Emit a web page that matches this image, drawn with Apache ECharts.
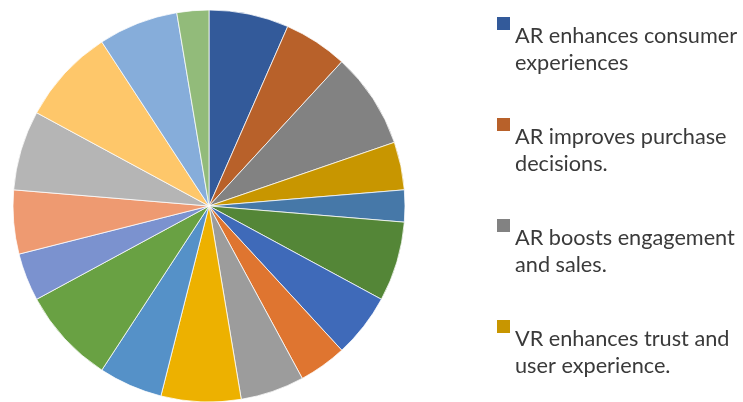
<!DOCTYPE html>
<html>
<head>
<meta charset="utf-8">
<script src="https://cdn.jsdelivr.net/npm/echarts@6/dist/echarts.min.js"></script>
<style>
  html, body { margin: 0; padding: 0; background: #ffffff; }
  #chart { width: 743px; height: 402px; }
</style>
</head>
<body>
<div id="chart"></div>
<script>
// Slice names (only the first four appear in the legend)
const categories = [
  'AR enhances consumer experiences',
  'AR improves purchase decisions.',
  'AR boosts engagement and sales.',
  'VR enhances trust and user experience.',
  'Item 5', 'Item 6', 'Item 7', 'Item 8', 'Item 9', 'Item 10',
  'Item 11', 'Item 12', 'Item 13', 'Item 14', 'Item 15', 'Item 16',
  'Item 17', 'Item 18'
];
// Slice values, clockwise from 12 o'clock
const values = [5, 4, 6, 3, 2, 5, 4, 3, 4, 5, 4, 6, 3, 4, 5, 6, 5, 2];
// Legend text, wrapped onto two lines
const legendText = {
  'AR enhances consumer experiences': 'AR enhances consumer\nexperiences',
  'AR improves purchase decisions.': 'AR improves purchase\ndecisions.',
  'AR boosts engagement and sales.': 'AR boosts engagement\nand sales.',
  'VR enhances trust and user experience.': 'VR enhances trust and\nuser experience.'
};
const legendItems = categories.slice(0, 4);
const palette = [
  '#335A9A', '#B8612A', '#828282', '#C89600', '#4678A8', '#548637',
  '#3F6AB9', '#DF7530', '#9C9C9C', '#EDB100', '#5591C8', '#69A143',
  '#7B92CF', '#EE9A71', '#B5B5B5', '#FEC76A', '#86ADDA', '#92BB7A'
];

const chart = echarts.init(document.getElementById('chart'), null, { renderer: 'canvas' });

chart.setOption({
  animation: false,
  backgroundColor: '#ffffff',
  color: palette,
  legend: {
    orient: 'vertical',
    left: 497,
    top: 17,
    padding: 0,
    data: legendItems,
    // square key sitting at the top of a tall icon box, level with the first text line
    icon: 'path://M0,0H13V13H0Z M0,65',
    itemWidth: 13,
    itemHeight: 65,
    itemGap: 36,
    itemStyle: { borderWidth: 0 },
    selectedMode: false,
    formatter: name => legendText[name] || name,
    textStyle: {
      fontFamily: 'Lato',
      fontSize: 21.7,
      lineHeight: 27,
      color: '#3a3a3a'
    }
  },
  series: [{
    type: 'pie',
    center: [209, 206],
    radius: [0, 196],
    startAngle: 90,
    clockwise: true,
    silent: true,
    label: { show: false },
    labelLine: { show: false },
    itemStyle: { borderColor: '#ffffff', borderWidth: 0.75 },
    data: categories.map((name, i) => ({ name: name, value: values[i] }))
  }]
});
</script>
</body>
</html>
